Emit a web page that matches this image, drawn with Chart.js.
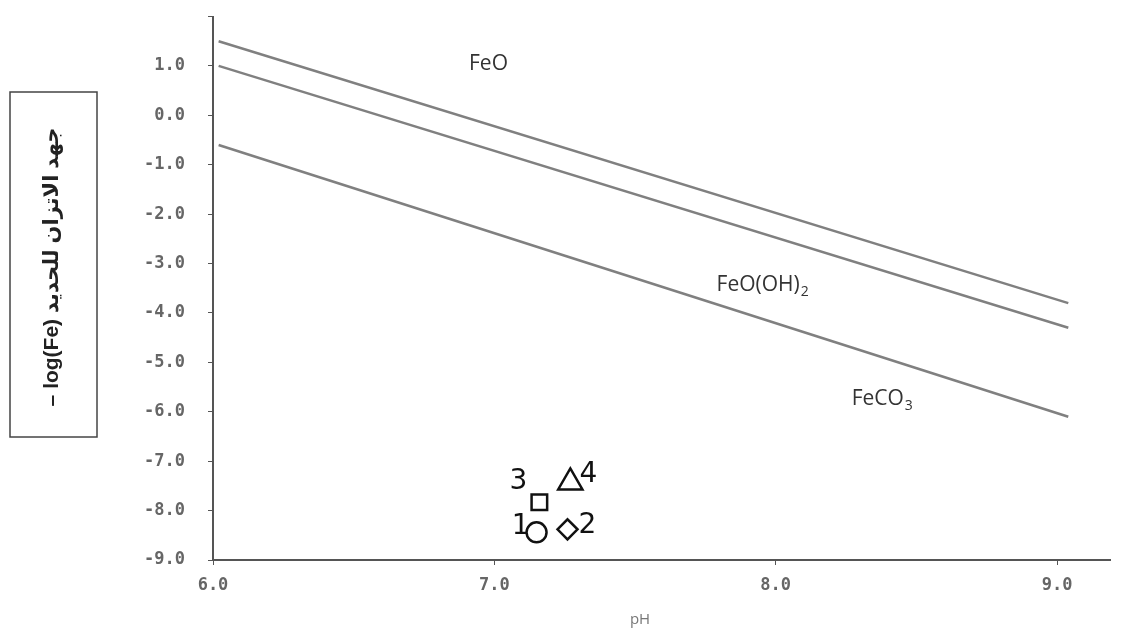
<!DOCTYPE html>
<html>
<head>
<meta charset="utf-8">
<script src="https://cdn.jsdelivr.net/npm/chart.js@4.4.0/dist/chart.umd.min.js"></script>
<style>
  body { margin: 0; background: #fff; }
  #wrap { width: 1127px; height: 637px; }
</style>
</head>
<body>
<div id="wrap"><canvas id="ironChart" width="1127" height="637"></canvas></div>
<script>
// boundary lines (pH at both ends, -log(Fe) at both ends)
var phRange = [6.02, 9.04];
var feoLine = [1.5, -3.8];
var feoohLine = [1.0, -4.3];
var feco3Line = [-0.6, -6.1];

// measured samples
var sampleIds = ["1", "2", "3", "4"];
var samplePH = [7.15, 7.26, 7.16, 7.27];
var sampleLogFe = [-8.44, -8.38, -7.83, -7.43];

var xTicks = [6, 7, 8, 9];
var yTicks = [1, 0, -1, -2, -3, -4, -5, -6, -7, -8, -9];

function toPoints(xs, ys) {
  return xs.map(function (x, i) { return { x: x, y: ys[i] }; });
}

var lineStyle = {
  type: 'line',
  showLine: true,
  borderColor: '#808080',
  borderWidth: 2.5,
  pointRadius: 0,
  fill: false
};

// labels drawn over the chart: phase names, axis titles, sample numbers
var notes = {
  id: 'notes',
  afterDraw: function (chart) {
    var ctx = chart.ctx;
    var x = chart.scales.x, y = chart.scales.y;
    ctx.save();

    // phase names
    var phases = [
      { text: 'FeO', sub: '', px: 6.91, py: 1.04 },
      { text: 'FeO(OH)', sub: '2', px: 7.79, py: -3.44 },
      { text: 'FeCO', sub: '3', px: 8.27, py: -5.74 }
    ];
    ctx.fillStyle = '#333';
    ctx.textBaseline = 'middle';
    ctx.textAlign = 'left';
    phases.forEach(function (p) {
      var lx = x.getPixelForValue(p.px), ly = y.getPixelForValue(p.py);
      ctx.font = '21px "Open Sans"';
      ctx.fillText(p.text, lx, ly);
      if (p.sub) {
        var w = ctx.measureText(p.text).width;
        ctx.font = '14px "Open Sans"';
        ctx.fillText(p.sub, lx + w + 1, ly + 7);
      }
    });

    // sample numbers next to the hand drawn marks
    var offs = [[-16, -6], [20, -4], [-21, -20], [18, -8]];
    var meta = chart.getDatasetMeta(3);
    ctx.fillStyle = '#111';
    ctx.textAlign = 'center';
    ctx.font = '28px "DejaVu Sans"';
    meta.data.forEach(function (pt, i) {
      ctx.fillText(sampleIds[i], pt.x + offs[i][0], pt.y + offs[i][1]);
    });

    // x title
    ctx.fillStyle = '#777';
    ctx.font = '15px "Open Sans"';
    ctx.fillText('pH', 640, 620);

    // boxed y title
    ctx.strokeStyle = '#444';
    ctx.lineWidth = 1.5;
    ctx.strokeRect(10, 92, 87, 345);
    ctx.translate(52, 267);
    ctx.rotate(-Math.PI / 2);
    ctx.fillStyle = '#222';
    ctx.font = 'bold 21px "Liberation Sans", "DejaVu Sans"';
    ctx.fillText('\u2013 log(Fe) جهد الاتزان للحديد', 0, 0);
    ctx.restore();
  }
};

new Chart(document.getElementById('ironChart').getContext('2d'), {
  type: 'scatter',
  data: {
    datasets: [
      Object.assign({ label: 'FeO', data: toPoints(phRange, feoLine) }, lineStyle),
      Object.assign({ label: 'FeO(OH)2', data: toPoints(phRange, feoohLine) }, lineStyle),
      Object.assign({ label: 'FeCO3', data: toPoints(phRange, feco3Line) }, lineStyle),
      {
        label: 'samples',
        data: toPoints(samplePH, sampleLogFe),
        pointStyle: ['circle', 'rectRot', 'rect', 'triangle'],
        pointRadius: [10, 10, 11, 14],
        pointBorderColor: '#111',
        pointBackgroundColor: 'rgba(255,255,255,0)',
        pointBorderWidth: 2.5
      }
    ]
  },
  options: {
    responsive: false,
    animation: false,
    layout: { padding: { top: 4, right: 2, left: 0, bottom: 0 } },
    plugins: { legend: { display: false }, tooltip: { enabled: false } },
    scales: {
      x: {
        type: 'linear',
        min: 6,
        max: 9.19,
        afterFit: function (s) { s.height = 77; s.paddingLeft = 0; s.paddingRight = 0; },
        afterBuildTicks: function (s) { s.ticks = xTicks.map(function (v) { return { value: v }; }); },
        grid: { drawOnChartArea: false, drawTicks: true, tickLength: 5, color: '#555' },
        border: { display: true, color: '#555', width: 2 },
        ticks: {
          padding: 10,
          color: '#666',
          font: { family: 'DejaVu Sans Mono', size: 17, weight: 'bold' },
          callback: function (v) { return v.toFixed(1); }
        }
      },
      y: {
        type: 'linear',
        min: -9,
        max: 2,
        afterFit: function (s) { s.width = 213; s.paddingTop = 0; s.paddingBottom = 0; },
        afterBuildTicks: function (s) {
          s.ticks = [2].concat(yTicks).map(function (v) { return { value: v }; });
        },
        grid: { drawOnChartArea: false, drawTicks: true, tickLength: 5, color: '#555' },
        border: { display: true, color: '#555', width: 2 },
        ticks: {
          padding: 23,
          color: '#666',
          font: { family: 'DejaVu Sans Mono', size: 17, weight: 'bold' },
          callback: function (v) { return v > 1.5 ? '' : v.toFixed(1); }
        }
      }
    }
  },
  plugins: [notes]
});
</script>
</body>
</html>
